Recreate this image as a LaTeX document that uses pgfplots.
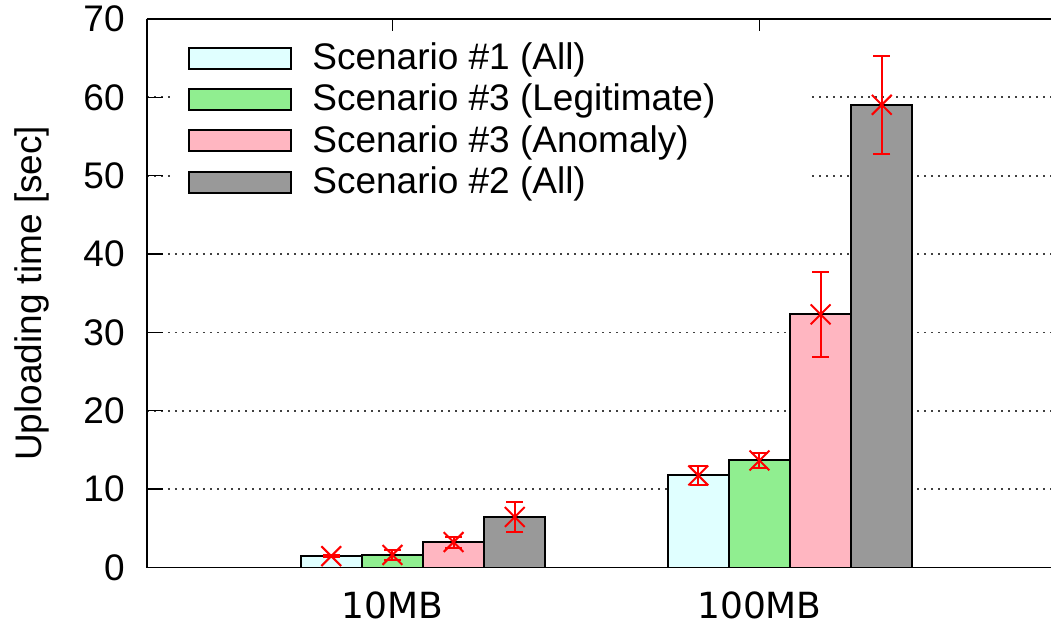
\documentclass[border=0pt]{standalone}
\usepackage{fontspec}
\setmainfont{Liberation Sans}
\newfontfamily\dejavu{DejaVu Sans}
\usepackage{pgfplots}
\pgfplotsset{compat=1.18}
\definecolor{sone}{HTML}{E0FFFF}
\definecolor{sthreel}{HTML}{90EE90}
\definecolor{sthreea}{HTML}{FFB6C1}
\definecolor{stwo}{HTML}{999999}
\pgfplotsset{
  mybar/.style={
    ybar, bar width=0.16667, bar shift=0pt,
    draw=black, line width=1pt,
    mark=x, mark options={red, line width=1pt, mark size=7pt, solid},
    error bars/.cd, y dir=both, y explicit,
      error bar style={red, line width=1pt},
      error mark options={rotate=90, red, line width=1pt, mark size=4.25pt},
    /pgfplots/.cd,
    legend image code/.code={\draw[##1, mark=none] (0pt,-4.15pt) rectangle (51pt,6.35pt);}
  }
}
\begin{document}
\begin{tikzpicture}
\useasboundingbox (-73.5pt,-29.75pt) rectangle (452.5pt,283.75pt);
\begin{axis}[
  at={(0,0)}, anchor=south west,
  scale only axis, width=452pt, height=274.25pt,
  xmin=-0.752, xmax=1.711, ymin=0, ymax=70,
  axis y line*=left,
  axis line style={line width=0.7pt},
  font=\fontsize{18.5}{22}\selectfont,
  /pgf/number format/assume math mode=true,
  xtick={-0.08333,0.91667}, xticklabels={10MB,100MB},
  xtick pos=right, xticklabel pos=left,
  ytick={0,10,...,70},
  tick align=inside, major tick length=8pt,
  tick style={black, line width=0.7pt},
  yticklabel style={inner sep=0pt, anchor=east, xshift=-11pt},
  xticklabel style={inner sep=0pt, anchor=north, yshift=-12pt, font=\dejavu\fontsize{18}{22}\selectfont},
  ymajorgrids,
  major grid style={black!75, line width=0.9pt, dash pattern=on 1pt off 2.5pt},
  ylabel={Uploading time [sec]},
  every axis y label/.style={at={(rel axis cs:0,0.5)}, xshift=-57.5pt, rotate=90, anchor=center},
  legend style={at={(rel axis cs:0.0254,0.9795)}, anchor=north west,
    draw=none, fill=white, inner xsep=9pt, inner ysep=6pt, row sep=2.6pt,
    font=\fontsize{18.5}{22}\selectfont,
    nodes={inner sep=0pt, text height=13.5pt, text depth=4.5pt},
    /tikz/every odd column/.append style={column sep=10pt}},
]
\addplot[mybar, fill=sone] table[x=x, y=y, y error=e] {
x y e
-0.25 1.45 0.15
0.75 11.75 1.25
};
\addlegendentry{\makebox[241pt][l]{Scenario \#1 (All)}}
\addplot[mybar, fill=sthreel] table[x=x, y=y, y error=e] {
x y e
-0.08333 1.6 0.65
0.91667 13.66 1.0
};
\addlegendentry{\makebox[241pt][l]{Scenario \#3 (Legitimate)}}
\addplot[mybar, fill=sthreea] table[x=x, y=y, y error=e] {
x y e
0.08333 3.25 0.7
1.08333 32.3 5.4
};
\addlegendentry{\makebox[241pt][l]{Scenario \#3 (Anomaly)}}
\addplot[mybar, fill=stwo] table[x=x, y=y, y error=e] {
x y e
0.25 6.45 1.9
1.25 59.05 6.25
};
\addlegendentry{\makebox[241pt][l]{Scenario \#2 (All)}}
\end{axis}
\end{tikzpicture}
\end{document}
